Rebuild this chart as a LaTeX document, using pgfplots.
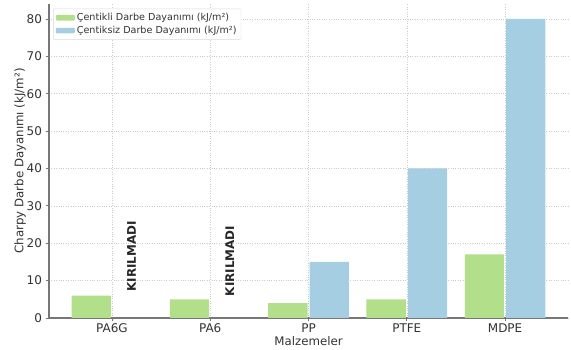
\documentclass[border=0pt]{standalone}
\usepackage{pgfplots}
\pgfplotsset{compat=1.18}
\usetikzlibrary{calc}
\usepackage{fontspec}
\setmainfont{DejaVu Sans}
\definecolor{cgreen}{HTML}{B2DF8A}
\definecolor{cblue}{HTML}{A6CEE3}
\definecolor{txt}{HTML}{333333}
\definecolor{spine}{HTML}{777777}
\begin{document}
\begin{tikzpicture}
\begin{axis}[
  scale only axis,
  width=519bp, height=314bp,
  ybar, bar width=0.4, bar shift auto,
  xmin=-0.64, xmax=4.64, ymin=0, ymax=84,
  xtick={0,1,2,3,4},
  xticklabels={PA6G,PA6,PP,PTFE,MDPE},
  ytick={0,10,20,30,40,50,60,70,80},
  axis x line*=bottom, axis y line*=left,
  axis line style={spine, line width=1.2pt, -},
  tick style={spine, line width=0.8pt},
  tick align=outside, major tick length=3.5bp,
  grid=major,
  major grid style={gray!40, dotted, line width=0.6pt},
  tick label style={font=\fontsize{12bp}{14bp}\selectfont, text=txt},
  xticklabel style={yshift=1.5bp},
  /pgf/number format/assume math mode=true,
  xlabel={Malzemeler}, ylabel={Charpy Darbe Dayanımı (kJ/m²)},
  label style={font=\fontsize{11.8bp}{14bp}\selectfont, text=txt},
  xlabel style={yshift=2.5bp},
  ylabel style={yshift=-6bp},
  legend style={at={(0.008,0.985)}, anchor=north west, font=\fontsize{9.6bp}{11.5bp}\selectfont, text=txt, draw=gray!30, rounded corners=1pt, row sep=0pt, inner sep=2.5pt},
  legend cell align=left,
  legend image code/.code={\fill[#1] (0bp,-2.8bp) rectangle (19bp,2.8bp);},
]
\addplot[fill=cgreen, draw=none] coordinates {(0,6) (1,5) (2,4) (3,5) (4,17)};
\addplot[fill=cblue, draw=none] coordinates {(2,15) (3,40) (4,80)};
\legend{Çentikli Darbe Dayanımı (kJ/m²), Çentiksiz Darbe Dayanımı (kJ/m²)}
\node[rotate=90, anchor=west, font=\bfseries\fontsize{11.9bp}{14bp}\selectfont, text=black!85, inner sep=0pt] at (axis cs:0.2,7) {KIRILMADI};
\node[rotate=90, anchor=west, font=\bfseries\fontsize{11.9bp}{14bp}\selectfont, text=black!85, inner sep=0pt] at (axis cs:1.2,5.8) {KIRILMADI};
\coordinate (bl) at (rel axis cs:0,0);
\coordinate (tr) at (rel axis cs:1,1);
\end{axis}
\pgfresetboundingbox
\path ($(bl)+(-49bp,-32bp)$) rectangle ($(tr)+(3bp,4bp)$);
\end{tikzpicture}
\end{document}
